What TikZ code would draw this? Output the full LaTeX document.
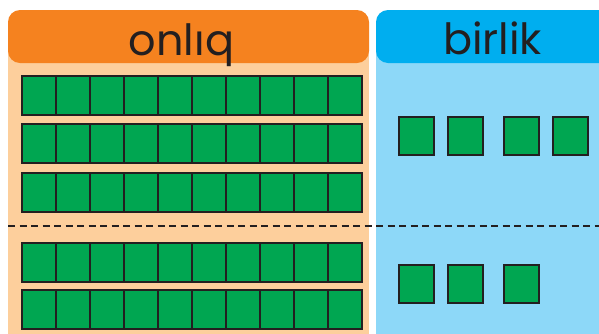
\documentclass[tikz,border=0pt]{standalone}
\usepackage{fontspec}
\setmainfont{Poppins}
\usepackage{tikz}
\definecolor{tenorange}{HTML}{F5821F}
\definecolor{tenbody}{HTML}{FDCF9C}
\definecolor{oneblue}{HTML}{00AEEF}
\definecolor{onebody}{HTML}{8DD8F8}
\definecolor{blockgreen}{HTML}{00A651}
\definecolor{inkdark}{HTML}{231F20}

\begin{document}
\begin{tikzpicture}[
    x=1pt,y=-1pt,
    header/.style={rounded corners=12pt},
    block/.style={draw=inkdark,line width=1.6pt,fill=blockgreen,minimum width=34pt,
      minimum height=39pt,inner sep=0pt,anchor=north west},
    unitblock/.style={block,minimum width=35pt,minimum height=38pt},
    title/.style={font=\fontsize{43}{43}\selectfont,text=inkdark,anchor=base,inner sep=0pt},
    splitline/.style={inkdark,line width=2.8pt,dash pattern=on 7pt off 4.5pt}
  ]
    \useasboundingbox (0,0) rectangle (599,333);
    \fill[white] (0,0) rectangle (599,333);

    % panels
    \fill[tenbody] (8,40) rectangle (369,345);
    \fill[onebody] (376,40) rectangle (615,345);
    \fill[tenorange,header] (8,10) rectangle (369,63);
    \fill[oneblue,header] (376,10) rectangle (615,63);

    \node[title] (tenlabel) at (181.5,55) {onlıq};
    \node[title] (onelabel) at (492.5,54) {birlik};

    % tens
    \foreach \r/\y in {1/75,2/123,3/172,4/242,5/289}
      \foreach \c in {0,...,9}
        \node[block] (ten-\r-\c) at ({21+34*\c},\y) {};

    % ones
    \foreach \u/\x in {1/398,2/447,3/503,4/552}
      \node[unitblock] (one-a\u) at (\x,116) {};
    \foreach \u/\x in {1/398,2/447,3/503}
      \node[unitblock] (one-b\u) at (\x,264) {};

    \coordinate (split-l) at (8,226);
    \coordinate (split-r) at (599,226);
    \draw[splitline] (split-l) -- (split-r);
  \end{tikzpicture}
\end{document}
